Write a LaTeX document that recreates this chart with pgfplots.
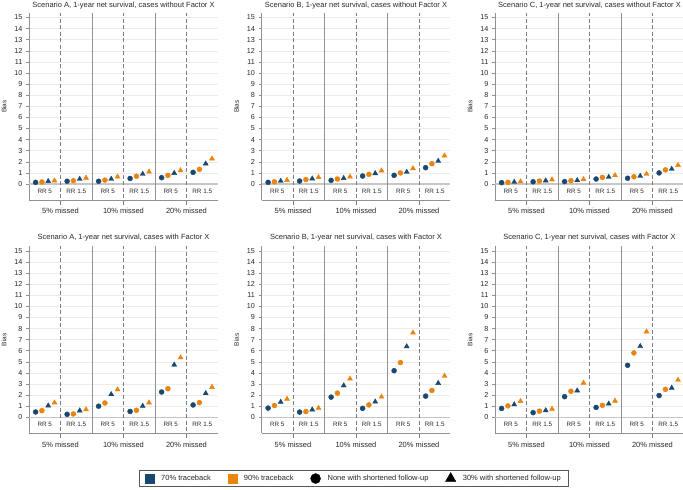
\documentclass[border=0pt]{standalone}
\usepackage{pgfplots}
\usepackage{pgfplotstable}
\pgfplotsset{compat=1.18}
\usepackage{fontspec}
\setmainfont{Liberation Sans}

\definecolor{navyS}{RGB}{26,71,111}
\definecolor{orangeS}{RGB}{235,131,15}
\definecolor{linegray}{RGB}{145,145,145}
\definecolor{dashgray}{RGB}{125,125,125}
\definecolor{gridgray}{RGB}{232,238,238}
\definecolor{zerogray}{RGB}{198,198,198}
\definecolor{txt}{RGB}{40,40,40}

% columns: k = sub-group (0: 5% RR5, 1: 5% RR1.5, 2: 10% RR5, 3: 10% RR1.5, 4: 20% RR5, 5: 20% RR1.5)
% a = 70% none, b = 90% none, c = 70% 30%-short, d = 90% 30%-short
\pgfplotstableread{
k a b c d
0 0.15 0.18 0.25 0.30
1 0.25 0.30 0.45 0.55
2 0.25 0.35 0.45 0.65
3 0.50 0.70 0.90 1.10
4 0.57 0.78 0.98 1.22
5 1.05 1.32 1.83 2.28
}\tAtop
\pgfplotstableread{
k a b c d
0 0.15 0.20 0.27 0.35
1 0.27 0.40 0.48 0.60
2 0.33 0.45 0.52 0.65
3 0.72 0.87 0.96 1.20
4 0.78 1.00 1.08 1.40
5 1.47 1.83 2.07 2.55
}\tBtop
\pgfplotstableread{
k a b c d
0 0.12 0.15 0.18 0.22
1 0.20 0.27 0.30 0.40
2 0.22 0.30 0.33 0.42
3 0.45 0.60 0.63 0.78
4 0.52 0.65 0.72 0.90
5 1.00 1.27 1.35 1.70
}\tCtop
\pgfplotstableread{
k a b c d
0 0.48 0.60 1.05 1.32
1 0.27 0.30 0.60 0.70
2 1.00 1.29 2.07 2.50
3 0.53 0.63 1.02 1.32
4 2.28 2.58 4.73 5.38
5 1.11 1.32 2.16 2.72
}\tAbot
\pgfplotstableread{
k a b c d
0 0.83 1.06 1.38 1.65
1 0.47 0.52 0.69 0.83
2 1.82 2.18 2.86 3.47
3 0.81 1.12 1.40 1.85
4 4.20 4.93 6.38 7.62
5 1.91 2.42 3.08 3.72
}\tBbot
\pgfplotstableread{
k a b c d
0 0.80 1.03 1.15 1.45
1 0.42 0.56 0.62 0.75
2 1.86 2.35 2.40 3.10
3 0.89 1.08 1.22 1.48
4 4.69 5.80 6.40 7.72
5 1.96 2.52 2.65 3.36
}\tCbot

\pgfplotsset{panel/.style={
  anchor=south west, scale only axis, width=189pt, height=187pt,
  xmin=0, xmax=6, ymin=-1.45, ymax=15.4,
  axis x line*=bottom, axis y line*=left,
  axis line style={linegray, line width=0.7pt, -},
  xtick=\empty, ytick={0,1,...,15},
  tick align=outside, major tick length=3pt,
  ytick style={linegray, line width=0.5pt},
  ymajorgrids, grid style={gridgray, line width=0.5pt},
  yticklabel style={font=\fontsize{7.2}{8}\selectfont, text=txt},
  /pgf/number format/assume math mode=true,
  clip=false,
  legend style={at={(axis description cs:0.489,-0.240)}, anchor=center,
    legend columns=4, draw=black!65, line width=0.8pt,
    font=\fontsize{7.5}{9}\selectfont, text=txt,
    inner xsep=6pt, inner ysep=2.5pt,
    /tikz/every odd column/.append style={column sep=5pt},
    /tikz/every even column/.append style={column sep=15pt}},
  legend cell align=left,
}}

\tikzset{rrlab/.style={font=\fontsize{6.3}{7}\selectfont, text=txt},
         grplab/.style={font=\fontsize{7.5}{9}\selectfont, text=txt},
         dashl/.style={dashgray, line width=0.6pt, dash pattern=on 4pt off 2.5pt},
         solidl/.style={linegray, line width=0.8pt}}

\newcommand{\panel}[6]{%
\begin{axis}[panel, at={(#1pt,#2pt)}]
  \draw[zerogray, line width=1.1pt] (axis cs:0,0) -- (axis cs:6,0);
  \draw[solidl] (axis cs:2,-1.45) -- (axis cs:2,15.4);
  \draw[solidl] (axis cs:4,-1.45) -- (axis cs:4,15.4);
  \draw[dashl] (axis cs:1,-1.85) -- (axis cs:1,15.4);
  \draw[dashl] (axis cs:3,-1.85) -- (axis cs:3,15.4);
  \draw[dashl] (axis cs:5,-1.85) -- (axis cs:5,15.4);
  \node[rrlab] at (axis cs:0.5,-0.63) {RR 5};
  \node[rrlab] at (axis cs:2.5,-0.63) {RR 5};
  \node[rrlab] at (axis cs:4.5,-0.63) {RR 5};
  \node[rrlab] at (axis cs:1.5,-0.63) {RR 1.5};
  \node[rrlab] at (axis cs:3.5,-0.63) {RR 1.5};
  \node[rrlab] at (axis cs:5.5,-0.63) {RR 1.5};
  \node[grplab] at (axis cs:1,-2.45) {5\% missed};
  \node[grplab] at (axis cs:3,-2.45) {10\% missed};
  \node[grplab] at (axis cs:5,-2.45) {20\% missed};
  \node[rotate=90, font=\fontsize{6.5}{8}\selectfont, text=txt] at ([xshift=-25pt]rel axis cs:0,0.5) {Bias};
  \addplot[forget plot, only marks, mark=*, mark size=2.5pt, navyS] table[x expr=\thisrow{k}+0.21, y=a] {#4};
  \addplot[forget plot, only marks, mark=*, mark size=2.5pt, orangeS] table[x expr=\thisrow{k}+0.41, y=b] {#4};
  \addplot[forget plot, only marks, mark=triangle*, mark size=2.9pt, navyS] table[x expr=\thisrow{k}+0.61, y=c] {#4};
  \addplot[forget plot, only marks, mark=triangle*, mark size=2.9pt, orangeS] table[x expr=\thisrow{k}+0.81, y=d] {#4};
  #6
\end{axis}
\node[grplab] at ({#1pt+94.5pt},#5pt) {#3};
}

\begin{document}
\begin{tikzpicture}
\path[use as bounding box] (0,0) rectangle (683pt,490pt);
\panel{29}{289.9}{Scenario A, 1-year net survival, cases without Factor X}{\tAtop}{484.5}{}
\panel{261.5}{289.9}{Scenario B, 1-year net survival, cases without Factor X}{\tBtop}{484.5}{}
\panel{495}{289.9}{Scenario C, 1-year net survival, cases without Factor X}{\tCtop}{484.5}{}
\panel{29}{56.6}{Scenario A, 1-year net survival, cases with Factor X}{\tAbot}{252.7}{}
\panel{261.5}{56.6}{Scenario B, 1-year net survival, cases with Factor X}{\tBbot}{252.7}{%
  \addlegendimage{only marks, mark=square*, mark size=4.6pt, navyS, line width=0.4pt}
  \addlegendentry{70\% traceback}
  \addlegendimage{only marks, mark=square*, mark size=4.6pt, orangeS, line width=0.4pt}
  \addlegendentry{90\% traceback}
  \addlegendimage{only marks, mark=*, mark size=5pt, black, line width=0.4pt}
  \addlegendentry{None with shortened follow-up}
  \addlegendimage{only marks, mark=triangle*, mark size=6pt, black, line width=0.4pt}
  \addlegendentry{30\% with shortened follow-up}
}
\panel{495}{56.6}{Scenario C, 1-year net survival, cases with Factor X}{\tCbot}{252.7}{}
\end{tikzpicture}
\end{document}
